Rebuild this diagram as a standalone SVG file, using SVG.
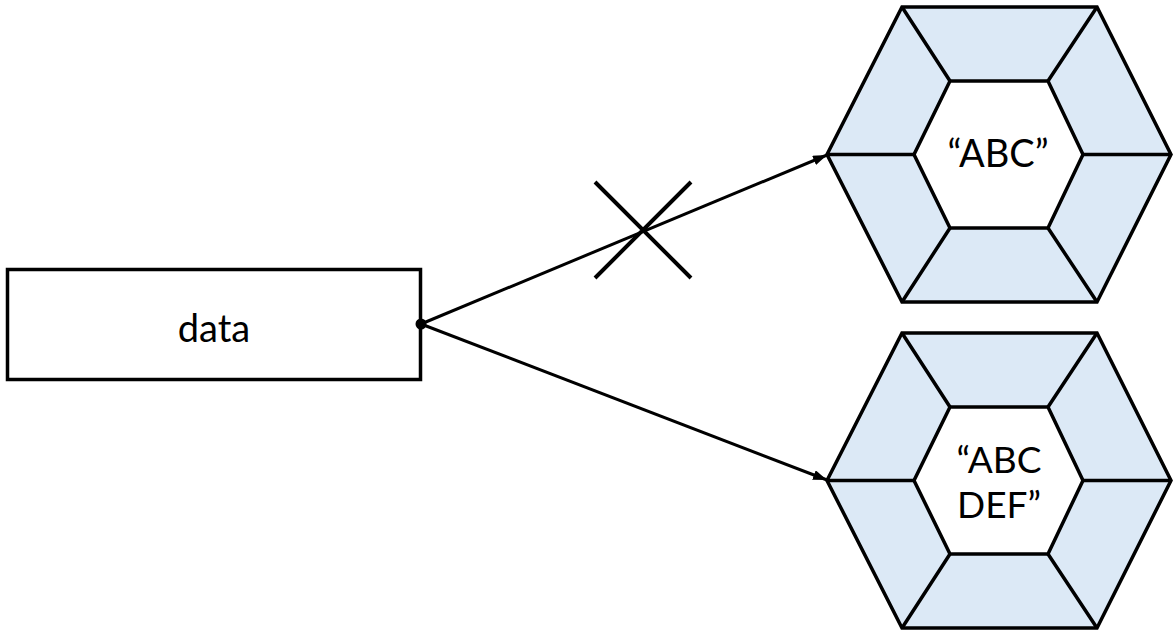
<svg xmlns="http://www.w3.org/2000/svg" width="1175" height="635" viewBox="0 0 1175 635">
<style>
.ln{stroke:#000;stroke-width:3.5;fill:none;stroke-linejoin:miter}
.outer{fill:#dce9f6;stroke:#000;stroke-width:3.5}
.inner{fill:#fff;stroke:#000;stroke-width:3.5}
.t{font-family:Lato,"Noto Sans",sans-serif;font-size:38px;fill:#000;text-anchor:middle}
.t2{font-size:37px}
.conn{stroke:#000;stroke-width:3;fill:none}
</style>
<defs>
<marker id="arr" viewBox="0 0 14 10" refX="14" refY="5" markerWidth="14" markerHeight="10" markerUnits="userSpaceOnUse" orient="auto">
<path d="M0,0 L14,5 L0,10 Z" fill="#000"/>
</marker>
<g id="hex">
<polygon class="outer" points="902,7 1097,7 1171,154.5 1097,302 902,302 827,154.5"/>
<polygon class="inner" points="950,81 1048,81 1083,154.5 1048,228 950,228 914,154.5"/>
<path class="ln" d="M902,7 L950,81 M1097,7 L1048,81 M1171,154.5 L1083,154.5 M1097,302 L1048,228 M902,302 L950,228 M827,154.5 L914,154.5"/>
</g>
</defs>
<g id="node-data">
<rect x="7.5" y="269.5" width="413" height="110" fill="#fff" stroke="#000" stroke-width="3.5"/>
<text class="t" x="214" y="342">data</text>
</g>
<g id="node-abc">
<use href="#hex"/>
<text class="t" x="998" y="167">“ABC”</text>
</g>
<g id="node-abcdef">
<use href="#hex" transform="translate(0,326)"/>
<text class="t t2"><tspan x="999" y="473">“ABC</tspan><tspan x="999" y="518">DEF”</tspan></text>
</g>
<g id="connectors">
<circle cx="421" cy="324" r="5.5" fill="#000"/>
<line class="conn" x1="421" y1="324" x2="827" y2="155" marker-end="url(#arr)"/>
<line class="conn" x1="421" y1="324" x2="827" y2="480" marker-end="url(#arr)"/>
<path d="M595,182 L691,278 M691,182 L595,278" stroke="#000" stroke-width="4" fill="none"/>
</g>
</svg>
